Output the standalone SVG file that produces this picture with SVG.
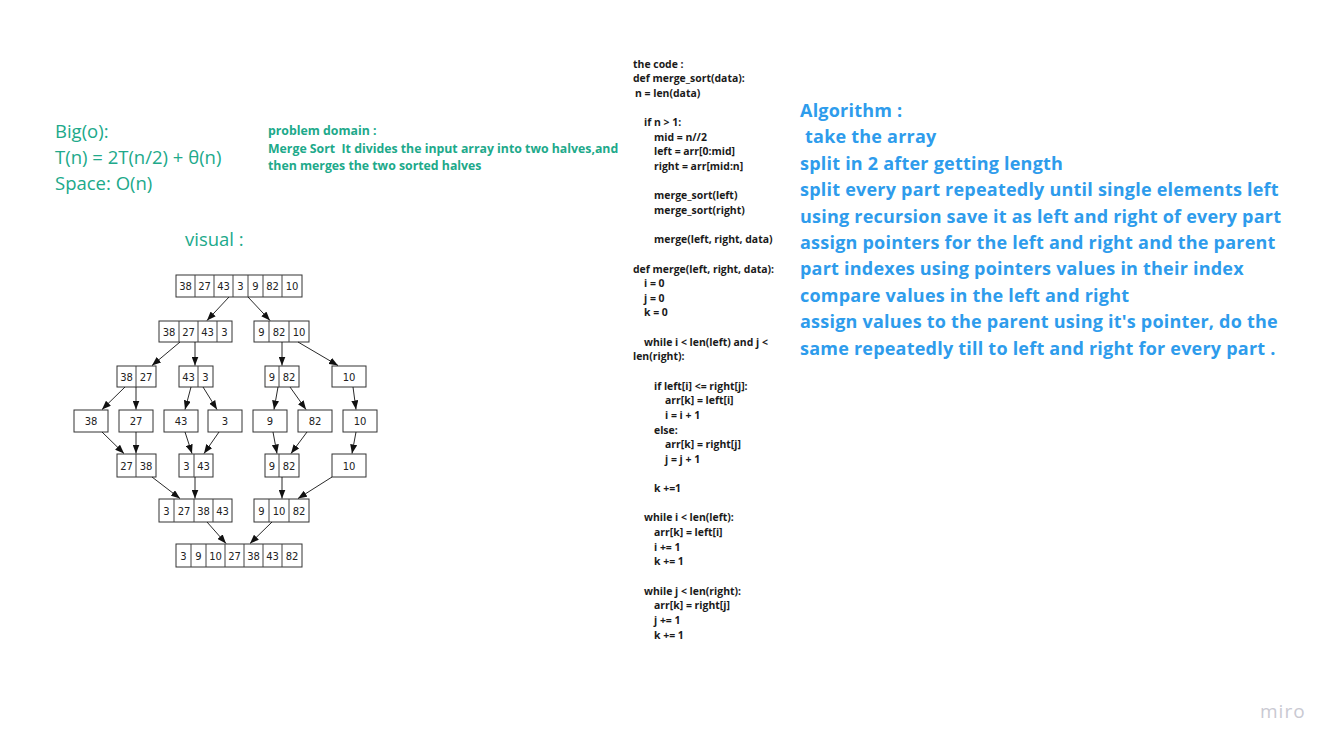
<svg xmlns="http://www.w3.org/2000/svg" width="1334" height="749" viewBox="0 0 1334 749">
<defs>
<style>
.bg{fill:#ffffff}
.teal{font-family:"Open Sans","Noto Sans",sans-serif;fill:#20a98a}
.big{font-size:18.5px}
.pd{font-size:12.3px;font-weight:bold;white-space:pre}
.code{font-family:"Open Sans","Noto Sans",sans-serif;font-size:10.45px;font-weight:bold;fill:#1a1a1a}
.algo{font-family:"Open Sans","Noto Sans",sans-serif;font-size:18px;font-weight:bold;fill:#2e9cec;letter-spacing:0.22px}
.box rect{fill:#ffffff;stroke:#333333;stroke-width:1}
.box line{stroke:#444444;stroke-width:1}
.box text{font-family:"DejaVu Sans",sans-serif;font-size:10px;fill:#222222;text-anchor:middle}
.arrows line{stroke:#111111;stroke-width:0.9;marker-end:url(#ah)}
.miro{font-family:"Open Sans","Noto Sans",sans-serif;font-size:19px;fill:#c9c9d2;letter-spacing:1px}
</style>
<marker id="ah" markerUnits="userSpaceOnUse" markerWidth="9" markerHeight="7" refX="9" refY="3.5" orient="auto">
<path d="M0,0 L9,3.5 L0,7 z" fill="#111111"/>
</marker>
</defs>
<rect class="bg" x="0" y="0" width="1334" height="749"/>

<g id="bigo" class="teal big">
<text x="55" y="137.5">Big(o):</text>
<text x="55" y="163.5">T(n) = 2T(n/2) + θ(n)</text>
<text x="55" y="189.5">Space: O(n)</text>
</g>
<g id="visual-label" class="teal big">
<text x="185" y="245.5">visual :</text>
</g>
<g id="problem-domain" class="teal pd">
<text x="268" y="134.5">problem domain :</text>
<text x="268" y="152.5" xml:space="preserve">Merge Sort  It divides the input array into two halves,and</text>
<text x="268" y="170">then merges the two sorted halves</text>
</g>

<g id="code" class="code">
<text x="633" y="67.5">the code :</text>
<text x="633" y="82.1">def merge_sort(data):</text>
<text x="635" y="96.8">n = len(data)</text>
<text x="644" y="126.1">if n &gt; 1:</text>
<text x="654" y="140.7">mid = n//2</text>
<text x="654" y="155.3">left = arr[0:mid]</text>
<text x="654" y="170.0">right = arr[mid:n]</text>
<text x="654" y="199.3">merge_sort(left)</text>
<text x="654" y="213.9">merge_sort(right)</text>
<text x="654" y="243.2">merge(left, right, data)</text>
<text x="633" y="272.5">def merge(left, right, data):</text>
<text x="644" y="287.1">i = 0</text>
<text x="644" y="301.7">j = 0</text>
<text x="644" y="316.4">k = 0</text>
<text x="644" y="345.7">while i &lt; len(left) and j &lt;</text>
<text x="633" y="360.3">len(right):</text>
<text x="654" y="389.6">if left[i] &lt;= right[j]:</text>
<text x="665" y="404.2">arr[k] = left[i]</text>
<text x="665" y="418.9">i = i + 1</text>
<text x="654" y="433.5">else:</text>
<text x="665" y="448.1">arr[k] = right[j]</text>
<text x="665" y="462.8">j = j + 1</text>
<text x="654" y="492.1">k +=1</text>
<text x="644" y="521.4">while i &lt; len(left):</text>
<text x="654" y="536.0">arr[k] = left[i]</text>
<text x="654" y="550.7">i += 1</text>
<text x="654" y="565.3">k += 1</text>
<text x="644" y="594.6">while j &lt; len(right):</text>
<text x="654" y="609.2">arr[k] = right[j]</text>
<text x="654" y="623.9">j += 1</text>
<text x="654" y="638.5">k += 1</text>
</g>

<g id="algorithm" class="algo">
<text x="800" y="117">Algorithm :</text>
<text x="805" y="143.4">take the array</text>
<text x="800" y="169.8">split in 2 after getting length</text>
<text x="800" y="196.2">split every part repeatedly until single elements left</text>
<text x="800" y="222.6">using recursion save it as left and right of every part</text>
<text x="800" y="249">assign pointers for the left and right and the parent</text>
<text x="800" y="275.4">part indexes using pointers values in their index</text>
<text x="800" y="301.8">compare values in the left and right</text>
<text x="800" y="328.2">assign values to the parent using it's pointer, do the</text>
<text x="800" y="354.6">same repeatedly till to left and right for every part .</text>
</g>

<g id="n1" class="box">
<rect x="176" y="275" width="126" height="22"/>
<line x1="195" y1="275" x2="195" y2="297"/><line x1="214" y1="275" x2="214" y2="297"/><line x1="233" y1="275" x2="233" y2="297"/><line x1="248" y1="275" x2="248" y2="297"/><line x1="263" y1="275" x2="263" y2="297"/><line x1="282" y1="275" x2="282" y2="297"/>
<text x="185.5" y="290">38</text><text x="204.5" y="290">27</text><text x="223.5" y="290">43</text><text x="240.5" y="290">3</text><text x="255.5" y="290">9</text><text x="272.5" y="290">82</text><text x="292" y="290">10</text>
</g>
<g id="n2a" class="box">
<rect x="159" y="321" width="73" height="21"/>
<line x1="179" y1="321" x2="179" y2="342"/><line x1="198" y1="321" x2="198" y2="342"/><line x1="217" y1="321" x2="217" y2="342"/>
<text x="169" y="335.5">38</text><text x="188.5" y="335.5">27</text><text x="207.5" y="335.5">43</text><text x="224.5" y="335.5">3</text>
</g>
<g id="n2b" class="box">
<rect x="254" y="321" width="55" height="21"/>
<line x1="269" y1="321" x2="269" y2="342"/><line x1="289" y1="321" x2="289" y2="342"/>
<text x="261.5" y="335.5">9</text><text x="279" y="335.5">82</text><text x="299" y="335.5">10</text>
</g>
<g id="n3a" class="box">
<rect x="117" y="366" width="39" height="21"/>
<line x1="136" y1="366" x2="136" y2="387"/>
<text x="126.5" y="380.5">38</text><text x="146" y="380.5">27</text>
</g>
<g id="n3b" class="box">
<rect x="179" y="366" width="34" height="21"/>
<line x1="198" y1="366" x2="198" y2="387"/>
<text x="188.5" y="380.5">43</text><text x="205.5" y="380.5">3</text>
</g>
<g id="n3c" class="box">
<rect x="265" y="366" width="34" height="21"/>
<line x1="279" y1="366" x2="279" y2="387"/>
<text x="272" y="380.5">9</text><text x="289" y="380.5">82</text>
</g>
<g id="n3d" class="box">
<rect x="332" y="366" width="34" height="21"/>
<text x="349" y="380.5">10</text>
</g>
<g id="n4a" class="box"><rect x="74" y="410" width="34" height="22"/><text x="91" y="425">38</text></g>
<g id="n4b" class="box"><rect x="119" y="410" width="34" height="22"/><text x="136" y="425">27</text></g>
<g id="n4c" class="box"><rect x="164" y="410" width="34" height="22"/><text x="181" y="425">43</text></g>
<g id="n4d" class="box"><rect x="208" y="410" width="34" height="22"/><text x="225" y="425">3</text></g>
<g id="n4e" class="box"><rect x="253" y="410" width="34" height="22"/><text x="270" y="425">9</text></g>
<g id="n4f" class="box"><rect x="298" y="410" width="34" height="22"/><text x="315" y="425">82</text></g>
<g id="n4g" class="box"><rect x="343" y="410" width="34" height="22"/><text x="360" y="425">10</text></g>
<g id="n5a" class="box">
<rect x="117" y="454" width="39" height="23"/>
<line x1="136" y1="454" x2="136" y2="477"/>
<text x="126.5" y="469.5">27</text><text x="146" y="469.5">38</text>
</g>
<g id="n5b" class="box">
<rect x="179" y="454" width="34" height="23"/>
<line x1="194" y1="454" x2="194" y2="477"/>
<text x="186.5" y="469.5">3</text><text x="203.5" y="469.5">43</text>
</g>
<g id="n5c" class="box">
<rect x="265" y="454" width="34" height="23"/>
<line x1="279" y1="454" x2="279" y2="477"/>
<text x="272" y="469.5">9</text><text x="289" y="469.5">82</text>
</g>
<g id="n5d" class="box">
<rect x="332" y="454" width="34" height="23"/>
<text x="349" y="469.5">10</text>
</g>
<g id="n6a" class="box">
<rect x="159" y="499" width="73" height="23"/>
<line x1="174" y1="499" x2="174" y2="522"/><line x1="194" y1="499" x2="194" y2="522"/><line x1="213" y1="499" x2="213" y2="522"/>
<text x="166.5" y="514.5">3</text><text x="184" y="514.5">27</text><text x="203.5" y="514.5">38</text><text x="222.5" y="514.5">43</text>
</g>
<g id="n6b" class="box">
<rect x="254" y="499" width="55" height="23"/>
<line x1="269" y1="499" x2="269" y2="522"/><line x1="289" y1="499" x2="289" y2="522"/>
<text x="261.5" y="514.5">9</text><text x="279" y="514.5">10</text><text x="299" y="514.5">82</text>
</g>
<g id="n7" class="box">
<rect x="176" y="544" width="126" height="23"/>
<line x1="191" y1="544" x2="191" y2="567"/><line x1="206" y1="544" x2="206" y2="567"/><line x1="225" y1="544" x2="225" y2="567"/><line x1="244" y1="544" x2="244" y2="567"/><line x1="263" y1="544" x2="263" y2="567"/><line x1="282" y1="544" x2="282" y2="567"/>
<text x="183.5" y="559.5">3</text><text x="198.5" y="559.5">9</text><text x="215.5" y="559.5">10</text><text x="234.5" y="559.5">27</text><text x="253.5" y="559.5">38</text><text x="272.5" y="559.5">43</text><text x="292" y="559.5">82</text>
</g>

<g id="connectors" class="arrows">
<line x1="229" y1="297" x2="207" y2="320.5"/>
<line x1="248" y1="297" x2="270" y2="320.5"/>
<line x1="180" y1="342" x2="152" y2="365.5"/>
<line x1="195" y1="342" x2="195" y2="365.5"/>
<line x1="282" y1="342" x2="282" y2="365.5"/>
<line x1="298" y1="342" x2="338" y2="365.5"/>
<line x1="125" y1="387" x2="102" y2="409.5"/>
<line x1="136" y1="387" x2="136" y2="409.5"/>
<line x1="191" y1="387" x2="185" y2="409.5"/>
<line x1="203" y1="387" x2="217" y2="409.5"/>
<line x1="278" y1="387" x2="274" y2="409.5"/>
<line x1="290" y1="387" x2="306" y2="409.5"/>
<line x1="353" y1="387" x2="356" y2="409.5"/>
<line x1="102" y1="432" x2="124" y2="453.5"/>
<line x1="136" y1="432" x2="136" y2="453.5"/>
<line x1="185" y1="432" x2="192" y2="453.5"/>
<line x1="219" y1="432" x2="204" y2="453.5"/>
<line x1="273" y1="432" x2="277" y2="453.5"/>
<line x1="307" y1="432" x2="291" y2="453.5"/>
<line x1="356" y1="432" x2="352" y2="453.5"/>
<line x1="152" y1="477" x2="180" y2="498.5"/>
<line x1="195" y1="477" x2="195" y2="498.5"/>
<line x1="282" y1="477" x2="282" y2="498.5"/>
<line x1="332" y1="477" x2="298" y2="498.5"/>
<line x1="207" y1="522" x2="226" y2="543.5"/>
<line x1="272" y1="522" x2="250" y2="543.5"/>
</g>

<g id="watermark">
<text class="miro" x="1260" y="718">miro</text>
</g>
</svg>
